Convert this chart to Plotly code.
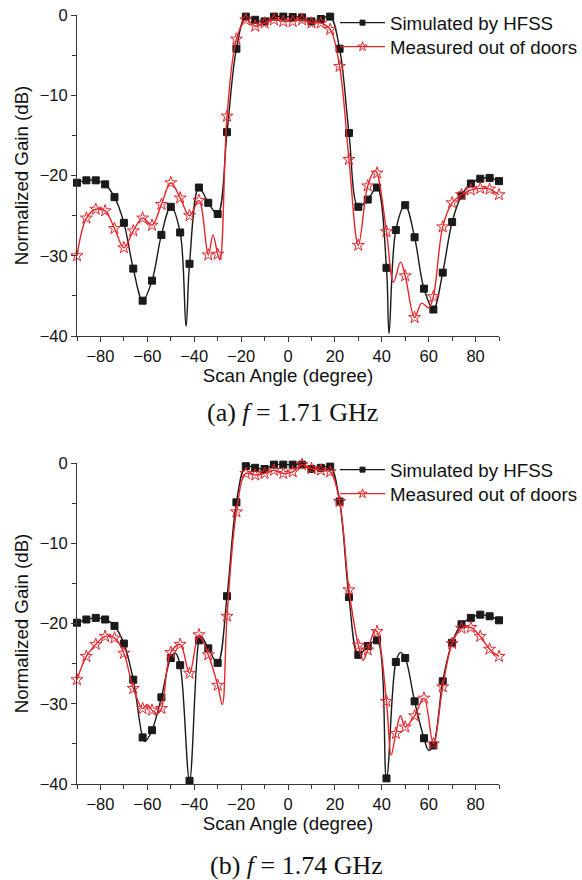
import plotly.graph_objects as go

# ---------------- data: (a) f = 1.71 GHz ----------------
sim_a_angle = [-90, -86, -82, -78, -74, -70, -66, -62, -58, -54, -50, -46, -43.5, -42,
               -38, -34, -30, -26, -22, -18, -14, -10, -6, -2, 2, 6, 10, 14, 18,
               22, 26, 30, 34, 38, 42, 43.1, 46, 50, 54, 58, 62, 66, 70, 74, 78, 82, 86, 90]
sim_a_gain = [-20.9, -20.6, -20.6, -21.1, -22.7, -25.9, -31.6, -35.6, -33.1, -27.4, -23.9, -27.1, -38.8, -31.0,
              -21.5, -23.4, -24.8, -14.6, -4.2, -0.2, -0.6, -0.8, -0.2, -0.2, -0.25, -0.3, -0.8, -0.5, -0.2,
              -4.2, -14.7, -23.9, -23.0, -21.5, -31.5, -39.7, -26.8, -23.7, -27.7, -34.1, -36.7, -32.1, -25.8,
              -22.5, -21.0, -20.4, -20.3, -20.7]

meas_a_angle = [-90, -86, -82, -78, -74, -70, -66, -62, -58, -54, -50, -46, -42, -38, -34, -32,
                -30, -29, -26, -22, -18, -14, -10, -6, -2, 2, 6, 10, 14, 18, 22, 26, 30, 34, 37,
                38, 42, 45, 48, 50, 54, 57, 60, 62, 66, 70, 74, 78, 82, 86, 90]
meas_a_gain = [-30.0, -25.3, -24.2, -24.4, -26.6, -29.0, -26.9, -25.3, -26.2, -23.6, -20.9, -22.8, -25.0, -23.1, -29.9, -27.4,
               -29.8, -30.5, -12.6, -3.0, -0.6, -1.4, -1.0, -0.6, -0.8, -0.8, -0.6, -1.0, -1.0, -1.8, -6.4, -18.0, -28.7, -21.3, -19.4,
               -19.7, -27.0, -33.3, -30.8, -32.5, -37.7, -35.9, -36.5, -35.1, -26.4, -23.4, -22.4, -21.8, -21.6, -21.7, -22.4]

# ---------------- data: (b) f = 1.74 GHz ----------------
sim_b_angle = [-90, -86, -82, -78, -74, -70, -66, -62, -61, -58, -54, -50, -48, -46, -42,
               -38, -37, -34, -30, -26, -22, -18, -14, -10, -6, -2, 2, 6, 10, 14, 18,
               22, 26, 30, 34, 38, 42, 46, 48, 50, 54, 58, 60, 62, 66, 70, 74, 78, 82, 86, 90]
sim_b_gain = [-19.9, -19.5, -19.3, -19.5, -20.3, -22.5, -27.0, -34.2, -34.7, -33.3, -29.2, -24.3, -23.7, -25.2, -39.6,
              -22.1, -21.6, -23.1, -24.9, -16.6, -4.9, -0.4, -0.6, -0.75, -0.2, -0.2, -0.2, -0.2, -0.75, -0.6, -0.45,
              -4.8, -16.7, -23.9, -22.8, -22.1, -39.3, -24.8, -23.6, -24.3, -29.7, -34.3, -35.8, -35.2, -27.2, -22.4,
              -20.1, -19.3, -18.9, -19.1, -19.6]

meas_b_angle = [-90, -86, -82, -78, -74, -70, -66, -62, -60, -58, -56, -54, -50, -46, -42, -38,
                -34, -30, -28, -26, -22, -18, -14, -10, -6, -2, 2, 6, 10, 14, 18, 22, 26, 30, 32,
                34, 37, 38, 42, 44, 46, 48, 50, 54, 58, 62, 66, 70, 74, 78, 82, 86, 90]
meas_b_gain = [-27.0, -24.1, -22.6, -21.6, -21.8, -23.7, -28.1, -30.6, -30.1, -30.8, -31.2, -30.6, -23.6, -22.6, -26.2, -21.4,
               -23.9, -27.7, -30.1, -19.1, -6.1, -1.3, -1.5, -1.3, -0.9, -1.3, -1.1, -0.2, -0.7, -0.9, -1.1, -4.8, -15.8, -22.7, -24.6,
               -23.3, -20.9, -21.0, -29.7, -36.4, -33.7, -31.5, -32.9, -31.5, -29.3, -35.0, -27.9, -22.5, -20.6, -20.5, -21.6, -23.2, -24.1]

marker_angles = list(range(-90, 91, 4))
x_ticks = [-80, -60, -40, -20, 0, 20, 40, 60, 80]
y_ticks = [-40, -30, -20, -10, 0]
series_names = ["Simulated by HFSS", "Measured out of doors"]
captions = ["(a) <i>f</i> = 1.71 GHz", "(b) <i>f</i> = 1.74 GHz"]

BLACK = "#1a1a1a"
RED = "#e8262b"
AXIS = "#3a3a3a"
FONT = "Liberation Sans, Arial, sans-serif"
W, H = 582, 880

fig = go.Figure()

def subset(ang, gain):
    xs, ys = [], []
    for a, g in zip(ang, gain):
        if a in marker_angles:
            xs.append(a)
            ys.append(g)
    return xs, ys

panels = [
    (sim_a_angle, sim_a_gain, meas_a_angle, meas_a_gain, "x", "y", ("legend", "legend2")),
    (sim_b_angle, sim_b_gain, meas_b_angle, meas_b_gain, "x2", "y2", ("legend3", "legend4")),
]
for sa, sg, ma, mg, xa, ya, lgs in panels:
    for ang, gain, color, sym, msize, name, lg in [
        (sa, sg, BLACK, "square", 7, series_names[0], lgs[0]),
        (ma, mg, RED, "star-open", 9, series_names[1], lgs[1]),
    ]:
        fig.add_trace(go.Scatter(x=ang, y=gain, mode="lines", xaxis=xa, yaxis=ya,
                                 line=dict(color=color, width=1.4, shape="spline", smoothing=1.0),
                                 showlegend=False, cliponaxis=False, hoverinfo="skip"))
        mx, my = subset(ang, gain)
        fig.add_trace(go.Scatter(x=mx, y=my, mode="markers", xaxis=xa, yaxis=ya,
                                 marker=dict(color=color, symbol=sym, size=msize,
                                             line=dict(color=color, width=1)),
                                 showlegend=False, cliponaxis=False))
        fig.add_trace(go.Scatter(x=[None], y=[None], mode="lines+markers", xaxis=xa, yaxis=ya,
                                 name=name, legend=lg,
                                 line=dict(color=color, width=1.4),
                                 marker=dict(color=color, symbol=sym, size=msize - 2,
                                             line=dict(color=color, width=1))))

def xaxis_style(domain, anchor):
    return dict(domain=domain, anchor=anchor, range=[-90, 90], tickvals=x_ticks,
                ticks="outside", ticklen=5, tickwidth=1, tickcolor=AXIS,
                minor=dict(dtick=10, tick0=-90, ticks="outside", ticklen=4, tickcolor=AXIS),
                showline=True, linecolor=AXIS, linewidth=1, showgrid=False, zeroline=False,
                automargin=False,
                tickfont=dict(family=FONT, size=16.5, color="#111"),
                title=dict(text="Scan Angle (degree)", font=dict(family=FONT, size=18.7, color="#111"), standoff=5))

def yaxis_style(domain, anchor):
    return dict(domain=domain, anchor=anchor, range=[-40, 0], tickvals=y_ticks,
                ticks="outside", ticklen=5, tickwidth=1, tickcolor=AXIS,
                minor=dict(dtick=5, tick0=0, ticks="outside", ticklen=4, tickcolor=AXIS),
                showline=True, linecolor=AXIS, linewidth=1, showgrid=False, zeroline=False,
                automargin=False,
                tickfont=dict(family=FONT, size=16.5, color="#111"),
                title=dict(text="Normalized Gain (dB)", font=dict(family=FONT, size=18.7, color="#111"), standoff=6))

def legend_at(ypx):
    return dict(x=335 / W, y=1 - ypx / H, xanchor="left", yanchor="middle", bgcolor="rgba(0,0,0,0)",
                font=dict(family=FONT, size=18.7, color="#111"), itemwidth=45, tracegroupgap=0)

xdom = [77 / W, 499 / W]
fig.update_layout(
    width=W, height=H,
    margin=dict(l=0, r=0, t=0, b=0),
    paper_bgcolor="white", plot_bgcolor="white",
    xaxis=xaxis_style(xdom, "y"),
    yaxis=yaxis_style([1 - 336 / H, 1 - 15 / H], "x"),
    xaxis2=xaxis_style(xdom, "y2"),
    yaxis2=yaxis_style([1 - 784 / H, 1 - 463 / H], "x2"),
    legend=legend_at(23),
    legend2=legend_at(47),
    legend3=legend_at(470),
    legend4=legend_at(494),
    showlegend=True,
)

for cap, xpx, ypx in zip(captions, [292, 296], [413, 865]):
    fig.add_annotation(text=cap, xref="paper", yref="paper", x=xpx / W, y=1 - ypx / H,
                       xanchor="center", yanchor="middle", showarrow=False,
                       font=dict(family="Liberation Serif, Times New Roman, serif", size=26, color="#111"))

fig.write_html("out.html", config={"displayModeBar": False},
               post_script="document.body.style.margin='0px';")
